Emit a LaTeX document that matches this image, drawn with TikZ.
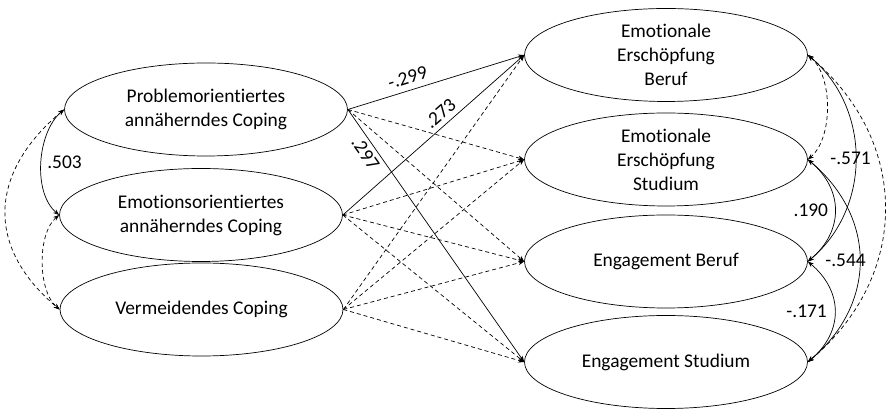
\documentclass[tikz,border=0pt]{standalone}
\usepackage{fontspec}
\setmainfont{Carlito}[Ligatures={NoCommon,NoContextual}]
\usetikzlibrary{arrows.meta,shapes.geometric}

\begin{document}
\begin{tikzpicture}[x=1pt,y=1pt,>={Stealth[length=6pt,width=4.5pt]},
                    line width=0.7pt,
                    latent/.style={ellipse,draw,minimum width=283pt,minimum height=93pt,
                                   inner xsep=0pt,inner ysep=-8pt,align=center,
                                   font=\fontsize{19.4}{24}\selectfont},
                    eff/.style={->},
                    effns/.style={->,dash pattern=on 4pt off 3pt},
                    corr/.style={<->},
                    corrns/.style={<->,dash pattern=on 4pt off 3pt},
                    coef/.style={font=\fontsize{19.4}{24}\selectfont,inner sep=1pt}]

  \useasboundingbox (0,0) rectangle (886,409);

  \node[latent] (prob) at (206,299.5) {Problemorientiertes\\annäherndes Coping};
  \node[latent] (emo)  at (201,194)   {Emotionsorientiertes\\annäherndes Coping};
  \node[latent] (verm) at (201.5,99.5) {Vermeidendes Coping};

  \node[latent] (eeb)  at (666,354)   {Emotionale\\Erschöpfung\\Beruf};
  \node[latent] (ees)  at (666,249.5) {Emotionale\\Erschöpfung\\Studium};
  \node[latent] (engb) at (666,147.5) {Engagement Beruf};
  \node[latent] (engs) at (666,47)    {Engagement Studium};

  % significant paths
  \draw[eff] (prob.east) -- node[coef,sloped,above=5pt,pos=0.36] {-.299} (eeb.west);
  \draw[eff] (emo.east)  -- node[coef,sloped,above=4pt,pos=0.58] {.273} (eeb.west);
  \draw[eff] (prob.east) -- node[coef,sloped,below=3pt,pos=0.15] {.297} (engs.west);

  % non-significant paths
  \draw[effns] (prob.east) -- (ees.west);
  \draw[effns] (prob.east) -- (engb.west);
  \draw[effns] (emo.east)  -- (ees.west);
  \draw[effns] (emo.east)  -- (engb.west);
  \draw[effns] (emo.east)  -- (engs.west);
  \draw[effns] (verm.east) -- (eeb.west);
  \draw[effns] (verm.east) -- (ees.west);
  \draw[effns] (verm.east) -- (engb.west);
  \draw[effns] (verm.east) -- (engs.west);

  % correlations, predictors
  \draw[corr] (prob.west) to[out=-140,in=140,looseness=0.85]
        node[coef,xshift=23pt] {.503} (emo.west);
  \draw[corrns] (prob.west) to[out=-140,in=140,looseness=1.25] (verm.west);
  \draw[corrns] (emo.west) to[out=-140,in=140,looseness=0.78] (verm.west);

  % correlations, outcomes
  \draw[corrns] (eeb.east) to[out=-40,in=40,looseness=0.81] (ees.east);
  \draw[corr] (eeb.east) to[out=-40,in=40,looseness=1.03]
        node[coef,xshift=-5pt] {-.571} (engb.east);
  \draw[corrns] (eeb.east) to[out=-40,in=40,looseness=1.12] (engs.east);
  \draw[corr] (ees.east) to[out=-40,in=40,looseness=1.18]
        node[coef,xshift=-24pt] {.190} (engb.east);
  \draw[corr] (ees.east) to[out=-40,in=40,looseness=1.14]
        node[coef,xshift=-14pt] {-.544} (engs.east);
  \draw[corr] (engb.east) to[out=-40,in=40,looseness=1.19]
        node[coef,xshift=-28pt] {-.171} (engs.east);
\end{tikzpicture}
\end{document}
